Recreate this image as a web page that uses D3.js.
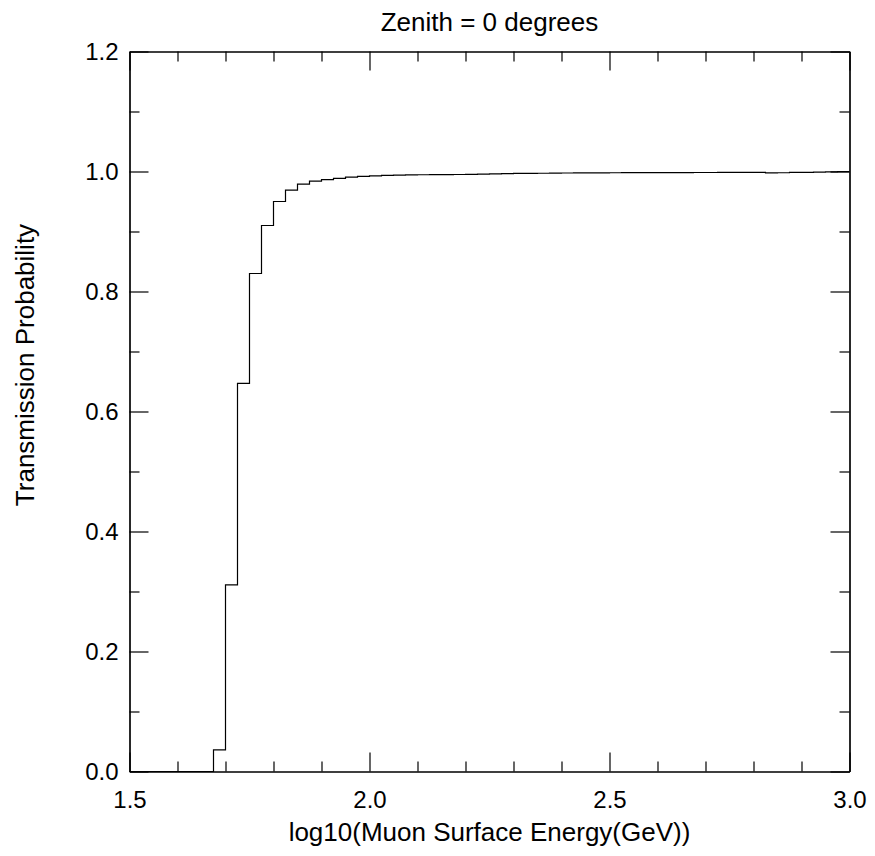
<!DOCTYPE html>
<html>
<head>
<meta charset="utf-8">
<script src="https://cdn.jsdelivr.net/npm/d3@7"></script>
<style>
  html, body { margin: 0; padding: 0; background: #fff; }
  svg { display: block; }
  text { font-family: "Liberation Sans", Arial, Helvetica, sans-serif; fill: #000; }
</style>
</head>
<body>
<svg id="chart" width="875" height="856"></svg>
<script>
// ---- data ----
const titleText = "Zenith = 0 degrees";
const xTitle = "log10(Muon Surface Energy(GeV))";
const yTitle = "Transmission Probability";
const binStart = 1.5;
const binWidth = 0.025;
// transmission probability per bin (60 bins from 1.5 to 3.0)
const probValues = [
  0, 0, 0, 0, 0, 0, 0,
  0.036, 0.311, 0.647, 0.830, 0.910, 0.950, 0.969, 0.979, 0.984,
  0.9865, 0.9885, 0.9905, 0.992, 0.9928, 0.9935, 0.994, 0.9943, 0.9946, 0.9948,
  0.9949, 0.9950, 0.9953, 0.9955, 0.9962, 0.9966, 0.9968, 0.9970, 0.9971, 0.9972,
  0.9975, 0.9976, 0.9977, 0.9978, 0.9979, 0.9980, 0.9980, 0.9981, 0.9981, 0.9982,
  0.9982, 0.9983, 0.9983, 0.9984, 0.9984, 0.9984, 0.9985, 0.9978, 0.9979, 0.9986,
  0.9987, 0.9988, 0.9995, 0.9997
];
const xMajorTicks = [1.5, 2.0, 2.5, 3.0];
const xMinorTicks = [1.6, 1.7, 1.8, 1.9, 2.1, 2.2, 2.3, 2.4, 2.6, 2.7, 2.8, 2.9];
const yMajorTicks = [0.0, 0.2, 0.4, 0.6, 0.8, 1.0, 1.2];
const yMinorTicks = [0.1, 0.3, 0.5, 0.7, 0.9, 1.1];

// ---- layout ----
const padL = 129.5, padR = 849.5, padT = 51.5, padB = 771.5;
const majorLen = 19, minorLen = 10;

const svg = d3.select("#chart");
const x = d3.scaleLinear().domain([1.5, 3.0]).range([padL, padR]);
const y = d3.scaleLinear().domain([0, 1.2]).range([padB, padT]);

const fmt = d3.format(".1f");

function styleAxis(g) {
  g.select(".domain").attr("stroke", "#000").attr("stroke-width", 1.2);
  g.selectAll(".tick line").attr("stroke", "#000").attr("stroke-width", 1.2);
}
function styleText(g) {
  g.selectAll("text").attr("font-size", 24)
    .attr("font-family", "Liberation Sans, Arial, sans-serif").attr("fill", "#000");
}

// bottom
svg.append("g").attr("transform", `translate(0,${padB})`)
  .call(d3.axisBottom(x).tickValues(xMajorTicks).tickSize(-majorLen).tickSizeOuter(0).tickPadding(19).tickFormat(fmt))
  .call(styleAxis).call(styleText);
svg.append("g").attr("transform", `translate(0,${padB})`)
  .call(d3.axisBottom(x).tickValues(xMinorTicks).tickSize(-minorLen).tickSizeOuter(0).tickFormat(""))
  .call(styleAxis);
// top
svg.append("g").attr("transform", `translate(0,${padT})`)
  .call(d3.axisTop(x).tickValues(xMajorTicks).tickSize(-majorLen).tickSizeOuter(0).tickFormat(""))
  .call(styleAxis);
svg.append("g").attr("transform", `translate(0,${padT})`)
  .call(d3.axisTop(x).tickValues(xMinorTicks).tickSize(-minorLen).tickSizeOuter(0).tickFormat(""))
  .call(styleAxis);
// left
svg.append("g").attr("transform", `translate(${padL},0)`)
  .call(d3.axisLeft(y).tickValues(yMajorTicks).tickSize(-majorLen).tickSizeOuter(0).tickPadding(11).tickFormat(fmt))
  .call(styleAxis).call(styleText);
svg.append("g").attr("transform", `translate(${padL},0)`)
  .call(d3.axisLeft(y).tickValues(yMinorTicks).tickSize(-minorLen).tickSizeOuter(0).tickFormat(""))
  .call(styleAxis);
// right
svg.append("g").attr("transform", `translate(${padR},0)`)
  .call(d3.axisRight(y).tickValues(yMajorTicks).tickSize(-majorLen).tickSizeOuter(0).tickFormat(""))
  .call(styleAxis);
svg.append("g").attr("transform", `translate(${padR},0)`)
  .call(d3.axisRight(y).tickValues(yMinorTicks).tickSize(-minorLen).tickSizeOuter(0).tickFormat(""))
  .call(styleAxis);

// step histogram
const pts = probValues.map((v, i) => [binStart + i * binWidth, v]);
pts.push([binStart + probValues.length * binWidth, probValues[probValues.length - 1]]);
const line = d3.line().x(d => x(d[0])).y(d => y(d[1])).curve(d3.curveStepAfter);
svg.append("path").datum(pts)
  .attr("d", line)
  .attr("fill", "none")
  .attr("stroke", "#000")
  .attr("stroke-width", 1.2);

// titles
svg.append("text").attr("x", (padL + padR) / 2).attr("y", 31)
  .attr("text-anchor", "middle").attr("font-size", 26).text(titleText);
svg.append("text").attr("x", (padL + padR) / 2).attr("y", 841)
  .attr("text-anchor", "middle").attr("font-size", 26).text(xTitle);
svg.append("text").attr("transform", `translate(34,365) rotate(-90)`)
  .attr("text-anchor", "middle").attr("font-size", 26).text(yTitle);
</script>
</body>
</html>
